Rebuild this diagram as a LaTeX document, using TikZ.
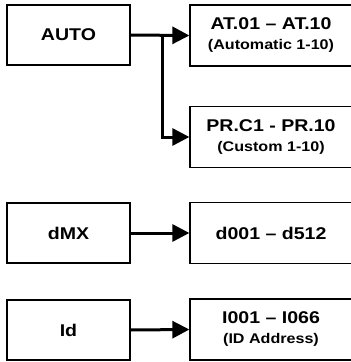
\documentclass[tikz,border=0pt]{standalone}
\usepackage{fontspec}
\setmainfont{Liberation Sans}[FakeStretch=1.15]
\usetikzlibrary{arrows.meta}

\tikzset{
	modebox/.style={draw, line width=1.3pt, minimum width=123pt, minimum height=60pt,
		font=\bfseries\fontsize{17}{20}\selectfont},
	rangebox/.style={draw, line width=1.3pt, minimum width=162pt, minimum height=61pt,
		align=center, font=\bfseries\fontsize{17}{20}\selectfont},
	feed/.style={line width=3pt, -{Triangle[length=17pt,width=17pt]}}
}
\newcommand{\sublabel}[1]{\\{\fontsize{14}{20}\selectfont #1}}

\begin{document}
\begin{tikzpicture}[x=1pt,y=-1pt]
\useasboundingbox (0,0) rectangle (351,362);

\pgfmathsetmacro{\colL}{68.5}
\pgfmathsetmacro{\colR}{271}
\pgfmathsetmacro{\splitX}{162}

\node[modebox] (auto) at (\colL,35) {AUTO};
\node[modebox] (dmx) at (\colL,233) {dMX};
\node[modebox] (id) at (\colL,330) {Id};

\node[rangebox] (at) at (\colR,35.5) {AT.01 -- AT.10\sublabel{(Automatic 1-10)}};
\node[rangebox] (pr) at (\colR,137) {PR.C1 - PR.10\sublabel{(Custom 1-10)}};
\node[rangebox] (dr) at (\colR,233) {d001 -- d512};
\node[rangebox] (ir) at (\colR,329.5) {I001 -- I066\sublabel{(ID Address)}};

\coordinate (split) at (\splitX,35);

\draw[feed] (auto.east) -- (at.west);
\draw[feed] (split) |- (pr.west);
\draw[feed] (dmx.east) -- (dr.west);
\draw[feed] (id.east) -- (ir.west);
\end{tikzpicture}
\end{document}
